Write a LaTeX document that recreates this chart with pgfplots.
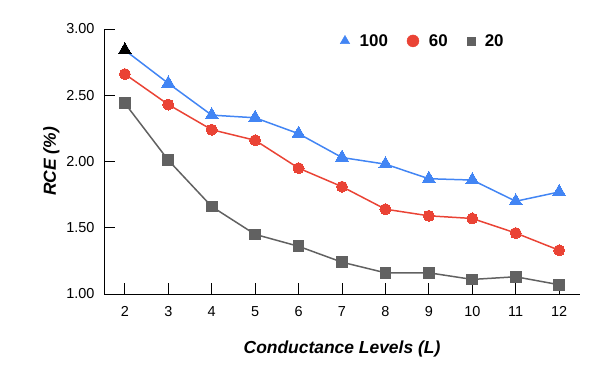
\documentclass[border=0pt]{standalone}
\usepackage{pgfplots}
\pgfplotsset{compat=1.18}
\usepackage{fontspec}
\setmainfont{Liberation Sans}
\definecolor{cblue}{HTML}{4285F4}
\definecolor{cred}{HTML}{EA4335}
\definecolor{cgray}{HTML}{616161}
\begin{document}
\begin{tikzpicture}
\begin{axis}[
  name=ax,
  scale only axis,
  width=476bp, height=265bp,
  xmin=1.52, xmax=12.48,
  ymin=1, ymax=3,
  axis lines*=left,
  axis line style={line width=1pt, black},
  xtick={2,3,4,5,6,7,8,9,10,11,12},
  ytick={1,1.5,2,2.5,3},
  tick align=inside,
  major tick length=11bp,
  tick style={line width=1pt, black},
  /pgf/number format/assume math mode=true,
  yticklabel style={/pgf/number format/fixed, /pgf/number format/fixed zerofill, /pgf/number format/precision=2, xshift=-6bp},
  ticklabel style={font=\fontsize{14.5}{14.5}\selectfont},
  xticklabel style={yshift=-9bp},
  xlabel={\textbf{\textit{Conductance Levels (L)}}},
  ylabel={\textbf{\textit{RCE (\%)}}},
  label style={font=\fontsize{17.5}{17.5}\selectfont},
  xlabel style={yshift=-17bp},
  ylabel style={yshift=0bp},
  legend columns=3,
  legend style={draw=none, fill=none, at={(0.67,0.955)}, anchor=center,
    font=\fontsize{17}{17}\selectfont\bfseries,
    /tikz/every odd column/.append style={column sep=8bp},
    /tikz/every even column/.append style={column sep=17bp}},
  legend cell align=left,
]
\addlegendimage{only marks, mark=triangle*, mark size=5.5bp, color=cblue}
\addlegendentry{100}
\addlegendimage{only marks, mark=*, mark size=6bp, color=cred}
\addlegendentry{60}
\addlegendimage{only marks, mark=square*, mark size=4bp, color=cgray}
\addlegendentry{20}

\addplot[forget plot, color=cblue, line width=1.5pt, mark=triangle*, mark size=7.5bp, mark options={line width=0pt}] coordinates {
(2,2.84) (3,2.59) (4,2.35) (5,2.33) (6,2.21) (7,2.03) (8,1.98) (9,1.87) (10,1.86) (11,1.70) (12,1.77)};
\addplot[forget plot, only marks, color=black, mark=triangle*, mark size=7.5bp, mark options={line width=0pt}] coordinates {(2,2.84)};
\addplot[forget plot, color=cred, line width=1.5pt, mark=*, mark size=5.5bp, mark options={line width=0pt}] coordinates {
(2,2.66) (3,2.43) (4,2.24) (5,2.16) (6,1.95) (7,1.81) (8,1.64) (9,1.59) (10,1.57) (11,1.46) (12,1.33)};
\addplot[forget plot, color=cgray, line width=1.5pt, mark=square*, mark size=5.3bp, mark options={line width=0pt}] coordinates {
(2,2.44) (3,2.01) (4,1.66) (5,1.45) (6,1.36) (7,1.24) (8,1.16) (9,1.16) (10,1.11) (11,1.13) (12,1.07)};
\end{axis}
\pgfresetboundingbox
\path[use as bounding box] (ax.south west) ++(-104bp,-86bp) rectangle ++(600bp,380bp);
\end{tikzpicture}
\end{document}
